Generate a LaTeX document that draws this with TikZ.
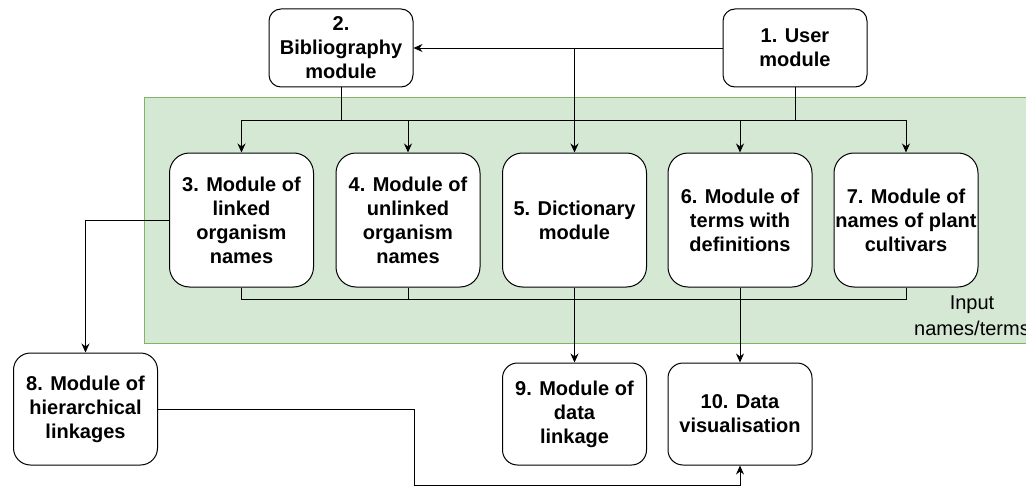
\documentclass[tikz,border=0pt]{standalone}
\usepackage{fontspec}
\setmainfont{Liberation Sans}
\usetikzlibrary{arrows.meta}
\definecolor{panelfill}{HTML}{D5E8D4}
\definecolor{paneldraw}{HTML}{82B366}
\tikzset{
  module/.style={draw, line width=1pt, fill=white, rounded corners=15pt, align=center,
    font=\fontsize{20}{24}\selectfont\bfseries, minimum width=144pt, inner sep=0pt},
  arr/.style={-{Stealth[length=9pt,width=8pt]}, line width=0.9pt},
  link/.style={line width=0.9pt}
}
\begin{document}
\begin{tikzpicture}[x=1pt,y=-1pt]
\useasboundingbox (0,0) rectangle (1026,487);

\fill[panelfill, draw=paneldraw, line width=1pt] (144,98) rectangle (1032,343);
\node[font=\fontsize{20}{26}\selectfont, align=center] (input) at (972,316) {Input\\names/terms};

\node[module, minimum height=78pt, rounded corners=12pt] (m1) at (795,48) {1. User\\module};
\node[module, minimum height=78pt, rounded corners=12pt] (m2) at (341,48) {2.\\Bibliography\\module};

\node[module, minimum height=134pt, rounded corners=20pt] (m3) at (241.5,220) {3. Module of\\linked\\organism\\names};
\node[module, minimum height=134pt, rounded corners=20pt] (m4) at (408,220) {4. Module of\\unlinked\\organism\\names};
\node[module, minimum height=134pt, rounded corners=20pt] (m5) at (574.5,220) {5. Dictionary\\module};
\node[module, minimum height=134pt, rounded corners=20pt] (m6) at (740,220) {6. Module of\\terms with\\definitions};
\node[module, minimum height=134pt, rounded corners=20pt] (m7) at (906,220) {7. Module of\\names of plant\\cultivars};

\node[module, minimum height=112pt, rounded corners=17pt] (m8) at (85.5,409) {8. Module of\\hierarchical\\linkages};
\node[module, minimum height=102pt] (m9) at (574.5,414) {9. Module of\\data\\linkage};
\node[module, minimum height=102pt] (m10) at (740,414) {10. Data\\visualisation};

% buses above and below the input row
\coordinate (top) at (0,120);
\coordinate (bot) at (0,299);
\coordinate (low) at (414,485);

\draw[arr] (m1) -- (m2);
\draw[arr] (m5.north |- m1) -- (m5);
\draw[link] (m2) -- (m2 |- top);
\draw[link] (m1) -- (m1 |- top);
\draw[link] (m3 |- top) -- (m7 |- top);
\foreach \n in {3,4,6,7}
  \draw[arr] (m\n |- top) -- (m\n);

\draw[link] (m3) -- (m3 |- bot) -- (m7 |- bot) -- (m7);
\draw[link] (m4) -- (m4 |- bot);
\draw[arr] (m5) -- (m9);
\draw[arr] (m6) -- (m10);

\draw[arr] (m3.west) -| (m8.north);
\draw[arr] (m8) -| (low) -| (m10);
\end{tikzpicture}
\end{document}
